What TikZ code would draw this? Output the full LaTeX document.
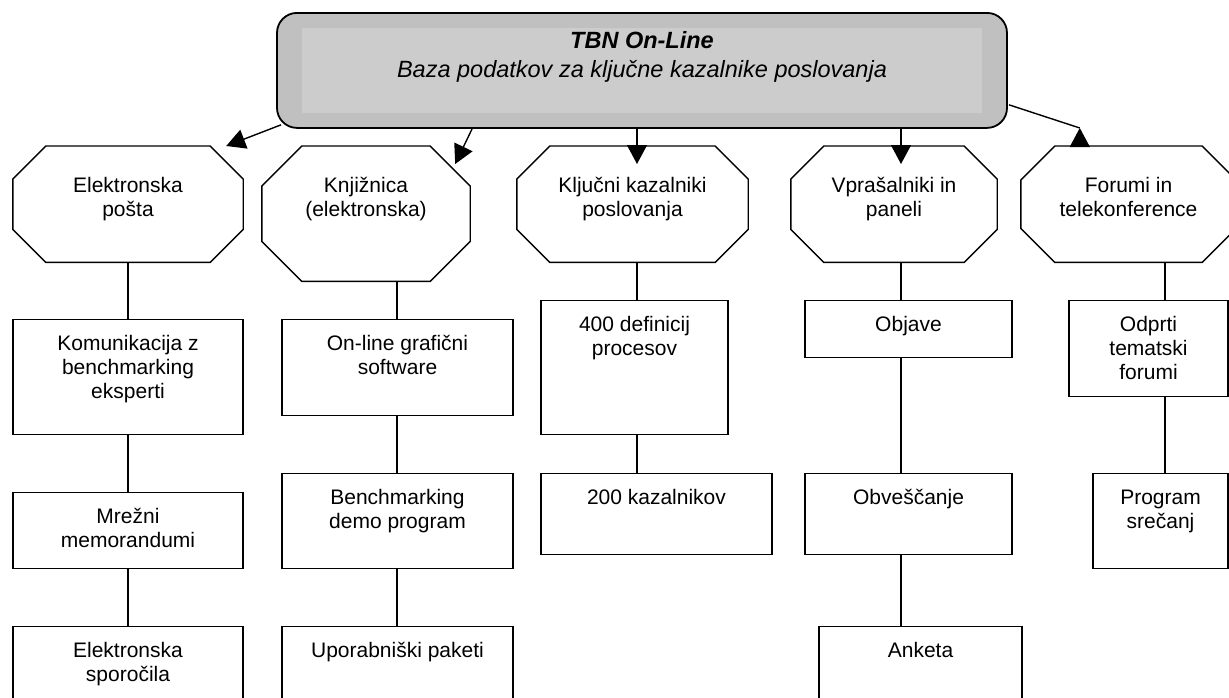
\documentclass[tikz,border=0pt]{standalone}
\usepackage{fontspec}
\setmainfont{Liberation Sans}
\usetikzlibrary{arrows.meta,calc}
\definecolor{boxgray}{HTML}{C0C0C0}
\definecolor{panelgray}{HTML}{CCCCCC}
\newcommand{\boxlines}[1]{\begin{tabular}[t]{@{}c@{}}#1\end{tabular}}

\begin{document}
\begin{tikzpicture}[x=1pt,y=-1pt,
    conn/.style={line width=1.4pt},
    arr/.style={line width=1.4pt,-{Triangle[length=19pt,width=20pt]}},
    octo/.style 2 args={minimum width=#1,inner xsep=0pt,inner ysep=29.2pt,text depth=#2,anchor=north,font=\fontsize{21}{24}\selectfont},
    rbox/.style 2 args={draw,line width=1.4pt,minimum width=#1,inner xsep=0pt,inner ysep=14pt,text depth=#2,anchor=north,font=\fontsize{21}{24}\selectfont}]
    \useasboundingbox (0,0) rectangle (1229,697);

    % Title box
    \node[draw,line width=1.8pt,fill=boxgray,rounded corners=20pt,minimum width=730pt,
          inner xsep=0pt,inner ysep=15.7pt,text depth=63.3pt,anchor=north,
          font=\fontsize{23.5}{29}\selectfont\itshape,
          path picture={\fill[panelgray,sharp corners] ([shift={(25,15)}]path picture bounding box.north west)
                        rectangle ([shift={(-25,-15)}]path picture bounding box.south east);}]
          (tbn) at (642,12) {\boxlines{\bfseries TBN On-Line\\Baza podatkov za ključne kazalnike poslovanja}};

    % Octagons
    \node[octo={230pt}{40.8pt}] (ep) at (128,146) {\boxlines{Elektronska\\pošta}};
    \node[octo={208pt}{59.8pt}] (kn) at (366,146) {\boxlines{Knjižnica\\(elektronska)}};
    \node[octo={231pt}{40.8pt}] (kk) at (632.5,146) {\boxlines{Ključni kazalniki\\poslovanja}};
    \node[octo={206pt}{40.8pt}] (vp) at (894,146) {\boxlines{Vprašalniki in\\paneli}};
    \node[octo={215pt}{40.8pt}] (fo) at (1128.5,146) {\boxlines{Forumi in\\telekonference}};
    \foreach \n/\c in {ep/33,kn/40,kk/33,vp/33,fo/34}
        \draw[conn] ($(\n.north west)+(\c,0)$) -- ($(\n.north east)+(-\c,0)$)
            -- ($(\n.north east)+(0,\c)$) -- ($(\n.south east)+(0,-\c)$)
            -- ($(\n.south east)+(-\c,0)$) -- ($(\n.south west)+(\c,0)$)
            -- ($(\n.south west)+(0,-\c)$) -- ($(\n.north west)+(0,\c)$) -- cycle;

    % Boxes below
    \node[rbox={230pt}{70.2pt}] (kom) at (128,319) {\boxlines{Komunikacija z\\benchmarking\\eksperti}};
    \node[rbox={230pt}{31.2pt}] (mre) at (128,492) {\boxlines{Mrežni\\memorandumi}};
    \node[rbox={230pt}{31.2pt}] (esp) at (128,626) {\boxlines{Elektronska\\sporočila}};
    \node[rbox={231pt}{51.2pt}] (onl) at (397.5,319) {\boxlines{On-line grafični\\software}};
    \node[rbox={231pt}{50.2pt}] (ben) at (397.5,473) {\boxlines{Benchmarking\\demo program}};
    \node[rbox={231pt}{31.2pt}] (upo) at (397.5,626) {\boxlines{Uporabniški paketi}};
    \node[rbox={187pt}{89.2pt}] (def) at (634.5,300) {\boxlines{400 definicij\\procesov}};
    \node[rbox={231pt}{36.2pt}] (kaz) at (656.5,473) {\boxlines{200 kazalnikov}};
    \node[rbox={207pt}{12.2pt}] (obj) at (908.5,300) {\boxlines{Objave}};
    \node[rbox={207pt}{36.2pt}] (obv) at (908.5,473) {\boxlines{Obveščanje}};
    \node[rbox={203pt}{31.2pt}] (ank) at (920.5,626) {\boxlines{Anketa}};
    \node[rbox={159pt}{51.2pt}] (odp) at (1148.5,300) {\boxlines{Odprti\\tematski\\forumi}};
    \node[rbox={135pt}{50.2pt}] (prg) at (1160.5,473) {\boxlines{Program\\srečanj}};

    % Columns of the connectors
    \coordinate (c1) at (128,0);
    \coordinate (c2) at (397,0);
    \coordinate (c3) at (637,0);
    \coordinate (c4) at (901,0);
    \coordinate (c5) at (1165,0);
    \foreach \a/\b/\c in {ep/kom/c1,kom/mre/c1,mre/esp/c1,kn/onl/c2,onl/ben/c2,ben/upo/c2,
                          kk/def/c3,def/kaz/c3,vp/obj/c4,obj/obv/c4,obv/ank/c4,fo/odp/c5,odp/prg/c5}
        \draw[conn] (\a.south -| \c) -- (\b.north -| \c);

    % Arrows from the title box
    \draw[arr] ($(tbn.south west)+(5,-4)$) -- ($(ep.north east)+(-17,0)$);
    \draw[arr] ($(tbn.south west)+(196,0)$) -- ($(kn.north east)+(-15,18)$);
    \draw[arr] (tbn.south -| c3) -- ($(kk.north -| c3)+(0,18)$);
    \draw[arr] (tbn.south -| c4) -- ($(vp.north -| c4)+(0,18)$);
    \coordinate (fotip) at ($(fo.north west)+(59,-18)$);
    \draw[conn] ($(tbn.south east)+(1,-24)$) -- (fotip);
    \draw[arr] ($(fo.north west)+(59,0)$) -- (fotip);
\end{tikzpicture}
\end{document}
